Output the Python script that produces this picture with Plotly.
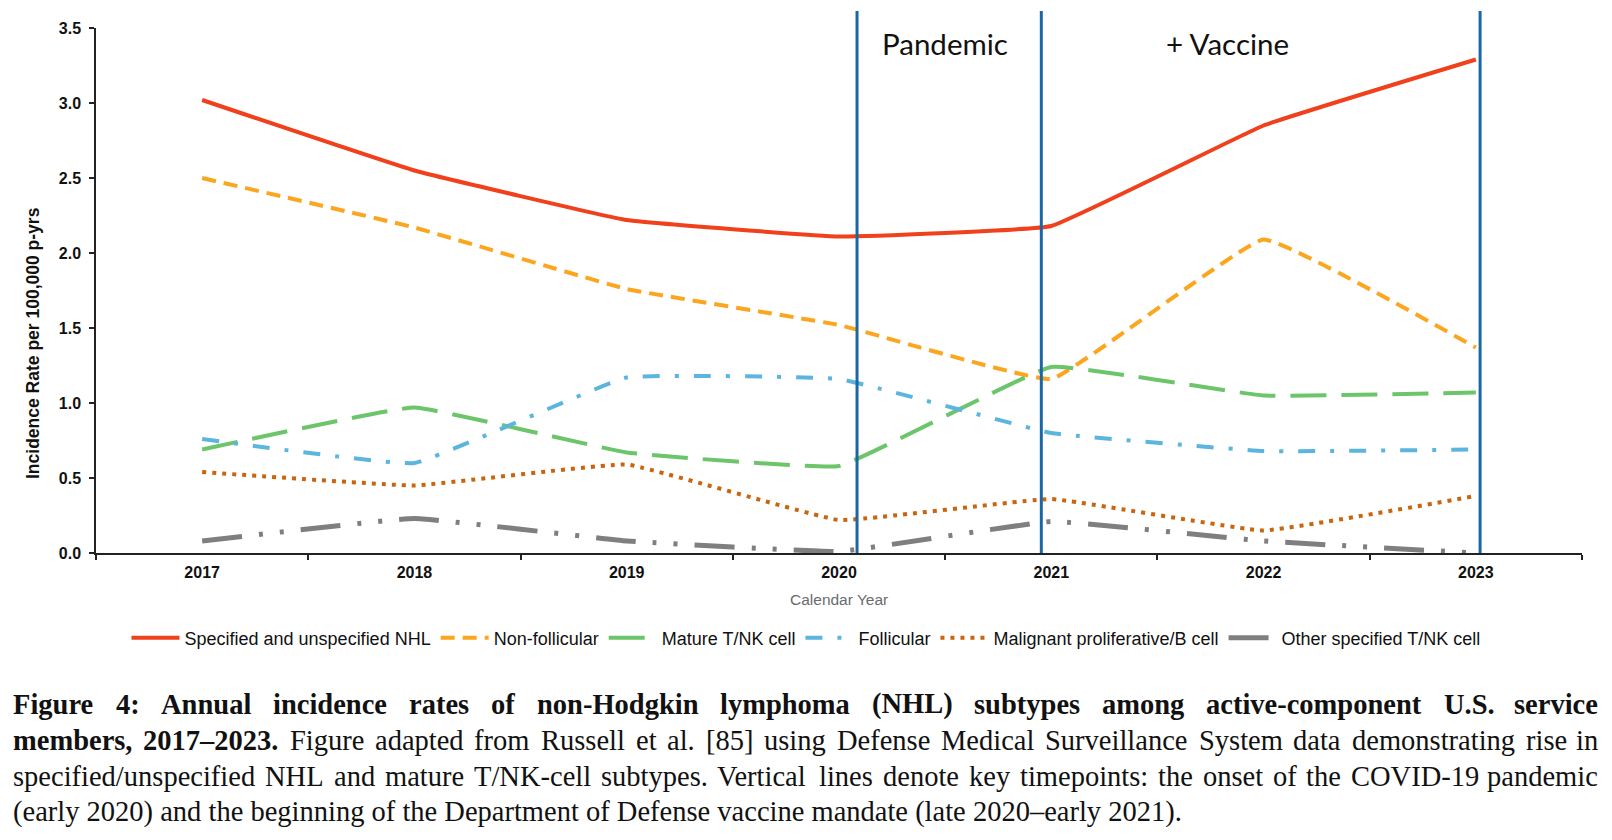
import plotly.graph_objects as go

years = [2017, 2018, 2019, 2020, 2021, 2022, 2023]

specified_unspecified_nhl = [3.02, 2.55, 2.22, 2.11, 2.18, 2.85, 3.29]
non_follicular = [2.50, 2.17, 1.76, 1.52, 1.16, 2.09, 1.37]
mature_tnk = [0.69, 0.97, 0.67, 0.58, 1.24, 1.05, 1.07]
follicular = [0.76, 0.60, 1.17, 1.16, 0.80, 0.68, 0.69]
malignant_prolif_b = [0.54, 0.45, 0.59, 0.22, 0.36, 0.15, 0.38]
other_tnk = [0.08, 0.23, 0.08, 0.01, 0.21, 0.08, 0.00]

series_names = [
    "Specified and unspecified NHL",
    "Non-follicular",
    "Mature T/NK cell",
    "Follicular",
    "Malignant proliferative/B cell",
    "Other specified T/NK cell",
]
series_values = [specified_unspecified_nhl, non_follicular, mature_tnk,
                 follicular, malignant_prolif_b, other_tnk]

event_years = [2020.085, 2020.953, 2023.02]
event_labels = ["Pandemic", "+ Vaccine"]

y_ticks = [0.0, 0.5, 1.0, 1.5, 2.0, 2.5, 3.0, 3.5]

# caption: list of lines, each a list of (word, bold)
caption_line1 = [(w, True) for w in
                 "Figure 4: Annual incidence rates of non-Hodgkin lymphoma (NHL) subtypes among active-component U.S. service".split()]
caption_line2 = [("members,", True), ("2017–2023.", True)] + [(w, False) for w in
                 "Figure adapted from Russell et al. [85] using Defense Medical Surveillance System data demonstrating rise in".split()]
caption_line3 = [(w, False) for w in
                 "specified/unspecified NHL and mature T/NK-cell subtypes. Vertical lines denote key timepoints: the onset of the COVID-19 pandemic".split()]
caption_line4 = "(early 2020) and the beginning of the Department of Defense vaccine mandate (late 2020–early 2021)."

styles = [
    dict(color="#F0401C", width=4, dash="solid"),
    dict(color="#FBA61E", width=4, dash="14px,8px"),
    dict(color="#6CC56A", width=4, dash="36px,15px"),
    dict(color="#5BB5DF", width=4, dash="17px,15px,4px,15px"),
    dict(color="#C9640F", width=4, dash="4px,6px"),
    dict(color="#7F7F7F", width=5, dash="40px,17px,4px,17px,4px,17px"),
]

# ---- geometry helpers (page px -> paper) ----
PAGE_OFF = 8            # body margin of the page
L, T, PW, PH = 88, 20, 1486, 525
def px_x(xp):  # page px -> paper x
    return (xp - PAGE_OFF - L) / PW
def px_y(yp):
    return (T + PH - (yp - PAGE_OFF)) / PH

# Times-compatible advance widths (per 1000 em)
_R = dict(zip("abcdefghijklmnopqrstuvwxyz",
              [444, 500, 444, 500, 444, 333, 500, 500, 278, 278, 500, 278, 778, 500, 500, 500, 500, 333, 389, 278, 500, 500, 722, 500, 500, 444]))
_R.update(dict(zip("ABCDEFGHIJKLMNOPQRSTUVWXYZ",
                   [722, 667, 667, 722, 611, 556, 722, 722, 333, 389, 722, 611, 889, 722, 722, 556, 722, 667, 556, 611, 722, 722, 944, 722, 722, 611])))
_R.update({".": 250, ",": 250, ":": 278, "(": 333, ")": 333, "[": 333, "]": 333, "-": 333, "/": 278, "–": 500, " ": 250})
_B = dict(zip("abcdefghijklmnopqrstuvwxyz",
              [500, 556, 444, 556, 444, 333, 500, 556, 278, 333, 556, 278, 833, 556, 500, 556, 556, 444, 389, 333, 556, 500, 722, 500, 500, 444]))
_B.update(dict(zip("ABCDEFGHIJKLMNOPQRSTUVWXYZ",
                   [722, 667, 722, 722, 667, 611, 778, 778, 389, 500, 778, 667, 944, 722, 778, 611, 778, 722, 556, 667, 722, 722, 1000, 722, 722, 667])))
_B.update({".": 250, ",": 250, ":": 333, "(": 333, ")": 333, "[": 333, "]": 333, "-": 333, "/": 278, "–": 500, " ": 250})

CAP_SIZE = 28.5
def word_w(w, bold):
    tab = _B if bold else _R
    return sum(tab.get(c, 500) for c in w) * CAP_SIZE / 1000

CAP_FONT = "Liberation Serif, Times New Roman, serif"

fig = go.Figure()
for name, vals, st in zip(series_names, series_values, styles):
    fig.add_trace(go.Scatter(
        x=years, y=vals, name=name, mode="lines",
        line=dict(color=st["color"], width=st["width"], dash=st["dash"],
                  shape="spline", smoothing=0.25),
    ))

for ev in event_years:
    fig.add_shape(type="line", xref="x", yref="paper", x0=ev, x1=ev,
                  y0=0, y1=px_y(11), line=dict(color="#1B67A6", width=3), layer="above")

for lab, cx in zip(event_labels, [945, 1227]):
    fig.add_annotation(text=lab, xref="paper", yref="paper", x=px_x(cx), y=px_y(43),
                       showarrow=False, font=dict(family="Lato, Open Sans, sans-serif", size=29.5, color="#111"),
                       xanchor="center", yanchor="middle")

# justified caption lines
X_LEFT, X_RIGHT = 12, 1599
for words, ypx in zip([caption_line1, caption_line2, caption_line3], [704, 740, 776]):
    widths = [word_w(w, b) for w, b in words]
    gap = (X_RIGHT - X_LEFT - sum(widths)) / (len(words) - 1)
    x = X_LEFT
    for i, ((w, b), wd) in enumerate(zip(words, widths)):
        last = i == len(words) - 1
        fig.add_annotation(text=f"<b>{w}</b>" if b else w, xref="paper", yref="paper",
                           x=px_x(X_RIGHT if last else x), y=px_y(ypx),
                           showarrow=False, xanchor="right" if last else "left", yanchor="middle",
                           borderpad=0,
                           font=dict(family=CAP_FONT, size=CAP_SIZE, color="#111"))
        x += wd + gap
fig.add_annotation(text=caption_line4, xref="paper", yref="paper",
                   x=px_x(X_LEFT), y=px_y(812), showarrow=False, xanchor="left", yanchor="middle",
                   borderpad=0, font=dict(family=CAP_FONT, size=CAP_SIZE, color="#111"))

fig.add_annotation(text="Calendar Year", xref="paper", yref="paper",
                   x=0.5, y=px_y(599), showarrow=False,
                   xanchor="center", yanchor="middle",
                   font=dict(family="Liberation Sans, Arial, sans-serif", size=15.5, color="#6b6b6b"))

fig.add_annotation(text="Incidence Rate per 100,000 p-yrs", xref="paper", yref="paper",
                   x=px_x(33), y=px_y(343), textangle=-90, showarrow=False,
                   xanchor="center", yanchor="middle",
                   font=dict(family="Liberation Sans, Arial, sans-serif", size=17.5, color="#111", weight="bold"))

fig.update_layout(
    width=1604, height=832,
    margin=dict(l=L, r=1604 - L - PW, t=T, b=832 - T - PH),
    paper_bgcolor="white", plot_bgcolor="white",
    showlegend=True,
    legend=dict(orientation="h", x=px_x(806), xanchor="center", y=px_y(638), yanchor="middle",
                font=dict(family="Liberation Sans, Arial, sans-serif", size=18, color="#111"),
                itemwidth=48, tracegroupgap=0, bgcolor="rgba(0,0,0,0)"),
    font=dict(family="Liberation Sans, Arial, sans-serif", color="#111"),
)

fig.update_xaxes(
    range=[2016.5, 2023.5], tickvals=years, ticktext=[str(y) for y in years],
    ticks="", showgrid=False, zeroline=False,
    showline=True, linecolor="#222", linewidth=1.5, ticklabelstandoff=4,
    tickfont=dict(size=16, color="#111", weight="bold"),
    minor=dict(tickvals=[2016.5 + i for i in range(8)], ticks="outside", ticklen=5,
               tickcolor="#222", tickwidth=1.5, showgrid=False),
)
fig.update_yaxes(
    range=[0, 3.5], tickvals=y_ticks, tickformat=".1f",
    ticks="outside", ticklen=5, tickcolor="#222", tickwidth=1.5, ticklabelstandoff=5,
    showgrid=False, zeroline=False, showline=True, linecolor="#222", linewidth=1.5,
    tickfont=dict(size=16, color="#111", weight="bold"),
)

fig.write_html("out.html")
